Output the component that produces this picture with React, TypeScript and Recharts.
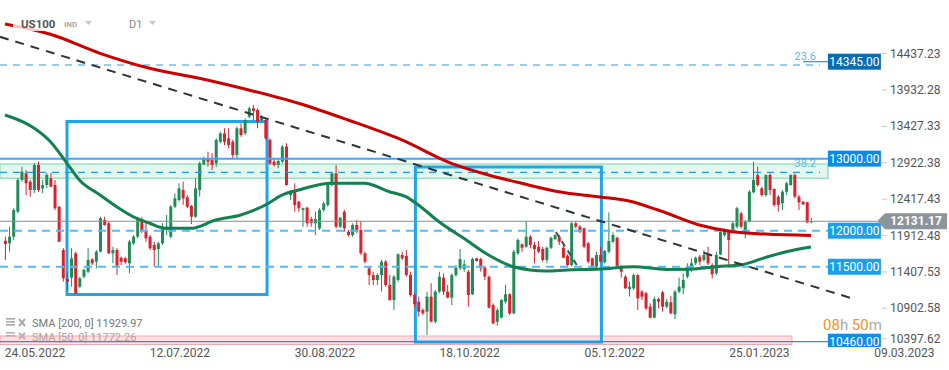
import { Bar, ComposedChart, Line, ReferenceArea, ReferenceLine, XAxis, YAxis } from "recharts";

// daily candles, index 0 = first visible session
const opens = [
  11861, 11825, 11917, 12264, 12704, 12796, 12680, 12565, 12912, 12588,
  12634, 12727, 12634, 12333, 11732, 11330, 11348, 11686, 11223, 11362,
  11431, 11603, 11570, 11709, 12148, 12103, 11686, 11732, 11625, 11617,
  11548, 11825, 11917, 12160, 12010, 11917, 11802, 11746, 11825, 12010,
  11917, 12333, 12426, 12565, 12463, 12343, 12194, 12565, 12921, 13005,
  12981, 12935, 13235, 13351, 13282, 13235, 13050, 13421, 13351, 13582,
  13698, 13675, 13536, 13536, 13259, 12957, 12912, 12957, 13166, 12495,
  12541, 12403, 12287, 12319, 12162, 12103, 12033, 12287, 12357, 12634,
  12796, 12056, 12264, 11986, 11940, 12079, 12010, 11686, 11478, 11385,
  11316, 11385, 11570, 11247, 11038, 11316, 11663, 11649, 11385, 11108,
  11015, 10900, 10876, 11085, 10738, 11154, 11348, 11154, 11071, 11385,
  11478, 11469, 11431, 11118, 11617, 11607, 11487, 11362, 10969, 10738,
  10793, 11015, 11118, 10854, 11686, 11811, 11778, 11917, 11802, 11778,
  11746, 11594, 11764, 11885, 11917, 11764, 11653, 11524, 12103, 12056,
  12033, 11825, 11617, 11501, 11663, 11562, 11709, 11847, 11903, 11501,
  11362, 11191, 11201, 11385, 11154, 11132, 10946, 10793, 11052, 11145,
  10946, 11006, 10840, 11154, 11201, 11362, 11455, 11548, 11640, 11594,
  11663, 11524, 11409, 11672, 11940, 11986, 11978, 12056, 12241, 11986,
  12125, 12533, 12773, 12588, 12495, 12773, 12579, 12472, 12380, 12541,
  12634, 12773, 12472, 12403, 12394, 12118,
];
const highs = [
  11917, 12056, 12315, 12731, 12888, 12842, 12704, 12939, 12957, 12704,
  12800, 12800, 12704, 12343, 11760, 11420, 11756, 11709, 11362, 11478,
  11760, 11617, 11732, 12194, 12194, 12125, 11778, 11756, 11640, 11640,
  11871, 11940, 12194, 12190, 12121, 11940, 11847, 11847, 12103, 12218,
  12357, 12519, 12658, 12680, 12495, 12357, 12727, 12957, 13027, 13096,
  13074, 13282, 13374, 13421, 13421, 13259, 13443, 13490, 13560, 13721,
  13744, 13698, 13605, 13560, 13282, 13005, 13005, 13189, 13213, 12565,
  12658, 12412, 12320, 12333, 12194, 12264, 12311, 12403, 12672, 12819,
  12912, 12194, 12287, 12010, 12103, 12148, 12135, 11709, 11501, 11431,
  11409, 11594, 11594, 11385, 11385, 11686, 11709, 11732, 11431, 11130,
  11085, 10923, 11154, 11270, 11177, 11431, 11409, 11247, 11409, 11524,
  11746, 11594, 11455, 11625, 11625, 11625, 11514, 11376, 10992, 10923,
  11052, 11247, 11132, 11732, 11894, 11825, 12135, 11940, 11847, 11857,
  11778, 11778, 11917, 11950, 11940, 11802, 11672, 12125, 12135, 12079,
  12042, 11847, 11625, 11709, 11778, 11732, 12255, 11978, 11917, 11524,
  11385, 11292, 11409, 11395, 11177, 11154, 10992, 11085, 11071, 11163,
  11052, 11098, 11177, 11348, 11409, 11548, 11617, 11640, 11663, 11732,
  11778, 11548, 11709, 12010, 12033, 11996, 12125, 12333, 12264, 12148,
  12565, 12957, 12888, 12611, 12782, 12810, 12588, 12495, 12565, 12680,
  12782, 12796, 12495, 12412, 12403, 12180,
];
const lows = [
  11594, 11709, 11871, 12246, 12680, 12495, 12472, 12523, 12537, 12523,
  12593, 12606, 12287, 11843, 11292, 11180, 11223, 11118, 11200, 11339,
  11413, 11524, 11478, 11700, 12070, 11680, 11548, 11385, 11524, 11540,
  11409, 11802, 11894, 11970, 11847, 11732, 11501, 11501, 11802, 11940,
  11894, 12311, 12403, 12357, 12311, 12093, 12180, 12472, 12912, 12888,
  12842, 12888, 13213, 13189, 13143, 13005, 13005, 13304, 13328, 13560,
  13536, 13421, 13512, 13259, 12912, 12888, 12866, 12935, 12624, 12426,
  12264, 12264, 12056, 12056, 12056, 11940, 12010, 12264, 12333, 12611,
  12033, 12033, 11986, 11917, 11917, 11964, 11663, 11548, 11247, 11247,
  11247, 11154, 11223, 11030, 10900, 11292, 11594, 11362, 11085, 10940,
  10807, 10830, 10553, 10729, 10715, 11132, 11108, 11062, 10969, 11362,
  11455, 11431, 10946, 11108, 11570, 11431, 11316, 10923, 10701, 10682,
  10784, 10992, 10830, 10840, 11663, 11709, 11764, 11756, 11548, 11686,
  11570, 11548, 11746, 11871, 11802, 11617, 11501, 11501, 12033, 11964,
  11756, 11548, 11469, 11478, 11562, 11548, 11686, 11825, 11478, 11348,
  11191, 11085, 11177, 10900, 11038, 10900, 10784, 10784, 10923, 10877,
  10923, 10840, 10775, 11132, 11118, 11339, 11431, 11524, 11524, 11570,
  11524, 11339, 11385, 11663, 11917, 11501, 11964, 12033, 12033, 11894,
  12116, 12519, 12611, 12472, 12472, 12495, 12333, 12264, 12287, 12495,
  12624, 12449, 12287, 12357, 12102, 12102,
];
const closes = [
  11816, 11917, 12287, 12704, 12819, 12658, 12565, 12912, 12565, 12634,
  12773, 12611, 12311, 11847, 11339, 11290, 11617, 11132, 11339, 11455,
  11594, 11548, 11709, 12172, 12079, 11686, 11732, 11514, 11570, 11562,
  11847, 11917, 12172, 11990, 11895, 11756, 11732, 11825, 12056, 12056,
  12333, 12450, 12588, 12450, 12333, 12194, 12588, 12935, 13005, 12957,
  12912, 13259, 13351, 13235, 13189, 13050, 13421, 13328, 13536, 13698,
  13661, 13512, 13582, 13282, 12935, 12912, 12967, 13166, 12634, 12541,
  12357, 12311, 12311, 12103, 12111, 12162, 12287, 12380, 12634, 12796,
  12056, 12180, 12033, 11940, 12079, 11986, 11686, 11570, 11385, 11316,
  11385, 11570, 11247, 11038, 11362, 11672, 11617, 11385, 11108, 10980,
  10876, 10854, 11085, 10738, 11154, 11362, 11154, 11071, 11385, 11487,
  11607, 11534, 11108, 11607, 11580, 11478, 11362, 10932, 10715, 10900,
  11038, 11118, 10854, 11709, 11871, 11764, 11917, 11802, 11746, 11709,
  11594, 11764, 11903, 11940, 11847, 11625, 11524, 12103, 12056, 11986,
  11778, 11570, 11501, 11663, 11570, 11718, 11857, 11940, 11501, 11431,
  11201, 11223, 11385, 11062, 11085, 10923, 10793, 11052, 11015, 10946,
  11015, 10854, 11154, 11223, 11316, 11501, 11548, 11625, 11570, 11663,
  11548, 11395, 11663, 11986, 12010, 11871, 12103, 12311, 12056, 12125,
  12541, 12704, 12634, 12495, 12773, 12565, 12357, 12357, 12541, 12658,
  12773, 12472, 12394, 12366, 12116, 12131,
];

// moving averages at a few sessions
const sma200Idx = [0, 11, 23, 35, 47, 59, 71, 83, 96, 108, 117, 125, 134, 144, 151, 158, 168, 176, 184, 195];
const sma200Val = [14868, 14725, 14461, 14253, 14115, 13952, 13768, 13536, 13259, 12935, 12773, 12658, 12541, 12468, 12412, 12287, 12079, 11986, 11954, 11935];
const sma50Idx = [0, 7, 11, 15, 18, 23, 27, 31, 35, 39, 45, 51, 57, 63, 67, 71, 79, 87, 93, 97, 100, 105, 111, 117, 123, 131, 136, 144, 152, 160, 166, 172, 178, 184, 189, 195];
const sma50Val = [13605, 13425, 13235, 12935, 12704, 12495, 12333, 12194, 12103, 12033, 12033, 12148, 12218, 12357, 12495, 12565, 12658, 12658, 12541, 12472, 12357, 12125, 11895, 11663, 11500, 11440, 11455, 11469, 11501, 11462, 11465, 11501, 11524, 11628, 11709, 11775];

const dateTicks = [7.26, 42.3, 77.4, 112.4, 147.5, 182.5, 217.6];
const dateLabels = ["24.05.2022", "12.07.2022", "30.08.2022", "18.10.2022", "05.12.2022", "25.01.2023", "09.03.2023"];
const priceTicks = [10397.62, 10902.58, 11407.53, 11912.48, 12417.43, 12922.38, 13427.33, 13932.28, 14437.23];

const XMIN = -1.21;
const XMAX = 228.16;
const LEVEL_END = 199.1;
const FIB_END = 197.2;

const GREEN = "#1f8c57";
const RED = "#d8232f";
const FONT = "Roboto, sans-serif";

const rows = opens.map((o, i) => ({
  i,
  open: o,
  high: highs[i],
  low: lows[i],
  close: closes[i],
  range: [lows[i], highs[i]],
}));
const sma200Rows = sma200Idx.map((i, k) => ({ i, sma200: sma200Val[k] }));
const sma50Rows = sma50Idx.map((i, k) => ({ i, sma50: sma50Val[k] }));

function Candle(props: any) {
  const { x, y, width, height, payload } = props;
  if (!payload) return null;
  const top = Math.min(y, y + height);
  const h = Math.abs(height);
  const { open, close, high, low } = payload;
  const k = h / (high - low || 1);
  const yOf = (v: number) => top + (high - v) * k;
  const b1 = yOf(Math.max(open, close));
  const b2 = yOf(Math.min(open, close));
  const cx = x + width / 2;
  const c = close >= open ? GREEN : RED;
  return (
    <g>
      <line x1={cx} x2={cx} y1={top} y2={top + h} stroke={c} strokeWidth={1} />
      <rect x={cx - 1.5} y={b1} width={3} height={Math.max(1, b2 - b1)} fill={c} />
    </g>
  );
}

function DateTick(props: any) {
  const { x, payload } = props;
  const k = dateTicks.indexOf(payload.value);
  return (
    <text x={x} y={357} textAnchor="middle" fontSize={12} fill="#555" fontFamily={FONT}>
      {dateLabels[k]}
    </text>
  );
}

function PriceTick(props: any) {
  const { y, payload } = props;
  const cy = payload.value < 10500 ? y - 7.5 : y - 1.5;
  return (
    <g>
      <line x1={882} x2={887} y1={cy} y2={cy} stroke="#c8c8c8" />
      <text x={890} y={cy} dominantBaseline="central" fontSize={12} fill="#555" fontFamily={FONT}>
        {payload.value.toFixed(2)}
      </text>
    </g>
  );
}

function PriceTag(props: any) {
  const { viewBox, text, fill } = props;
  if (!viewBox) return null;
  const x = viewBox.x + viewBox.width;
  const cy = viewBox.y;
  const top = cy - 8;
  const h = Math.min(16, 347 - top);
  return (
    <g>
      <rect x={x} y={top} width={53} height={h} fill={fill} />
      <text x={x + 26.5} y={cy} textAnchor="middle" dominantBaseline="central" fontSize={12} fill="#fff" fontFamily={FONT}>
        {text}
      </text>
    </g>
  );
}

function LastTag(props: any) {
  const { viewBox, text } = props;
  if (!viewBox) return null;
  const x = viewBox.x + viewBox.width;
  const cy = viewBox.y;
  return (
    <g>
      <polygon points={`${x},${cy} ${x + 8},${cy - 8} ${x + 70},${cy - 8} ${x + 70},${cy + 8} ${x + 8},${cy + 8}`} fill="#8c959b" />
      <text x={x + 39} y={cy} textAnchor="middle" dominantBaseline="central" fontSize={12} fontWeight="bold" fill="#fff" fontFamily={FONT}>
        {text}
      </text>
    </g>
  );
}

function FibText(props: any) {
  const { viewBox, text } = props;
  if (!viewBox) return null;
  return (
    <text x={viewBox.x + viewBox.width - 4} y={viewBox.y - 9} textAnchor="end" dominantBaseline="central" fontSize={11} fill="#5ab6ec" fontFamily={FONT}>
      {text}
    </text>
  );
}

export default function App() {
  return (
    <div style={{ position: "relative", width: 949, height: 370, background: "#fff" }}>
      <style>{"body{margin:0}"}</style>
      <ComposedChart width={949} height={370} data={rows} margin={{ top: 0, right: 0, bottom: 0, left: 0 }}>
        <XAxis
          type="number"
          dataKey="i"
          domain={[XMIN, XMAX]}
          allowDataOverflow
          ticks={dateTicks}
          interval={0}
          tick={<DateTick />}
          axisLine={false}
          tickLine={false}
          height={23}
        />
        <YAxis
          orientation="right"
          type="number"
          domain={[10386.4, 15201]}
          allowDataOverflow
          ticks={priceTicks}
          interval={0}
          tick={<PriceTick />}
          axisLine={false}
          tickLine={false}
          width={1}
        />

        <ReferenceArea x1={XMIN} x2={LEVEL_END} y1={12727} y2={12925} fill="#e4f7ef" fillOpacity={1} stroke="#9fdfc4" strokeWidth={1.5} ifOverflow="visible" />
        <ReferenceArea x1={XMIN} x2={190.4} y1={10421} y2={10539} fill="#fbdcdf" fillOpacity={0.9} stroke="#f1a7ae" ifOverflow="visible" />

        <ReferenceLine segment={[{ x: XMIN, y: 14299 }, { x: FIB_END, y: 14299 }]} stroke="#2a9be0" strokeWidth={1.2} strokeDasharray="7 6" ifOverflow="visible" label={<FibText text="23.6" />} />
        <ReferenceLine segment={[{ x: XMIN, y: 12810 }, { x: FIB_END, y: 12810 }]} stroke="#2a9be0" strokeWidth={1.2} strokeDasharray="7 6" ifOverflow="visible" label={<FibText text="38.2" />} />
        <ReferenceLine segment={[{ x: 193.1, y: 14345 }, { x: LEVEL_END, y: 14345 }]} stroke="#2a8fd6" strokeWidth={1.2} ifOverflow="visible" label={<PriceTag text="14345.00" fill="#0b6cb2" />} />
        <ReferenceLine segment={[{ x: XMIN, y: 13000 }, { x: LEVEL_END, y: 13000 }]} stroke="#4aa2ee" strokeWidth={2} ifOverflow="visible" label={<PriceTag text="13000.00" fill="#0a8be8" />} />
        <ReferenceLine segment={[{ x: XMIN, y: 12000 }, { x: LEVEL_END, y: 12000 }]} stroke="#5ab9f0" strokeWidth={2} strokeDasharray="8 6" ifOverflow="visible" label={<PriceTag text="12000.00" fill="#1aa0e8" />} />
        <ReferenceLine segment={[{ x: XMIN, y: 11500 }, { x: LEVEL_END, y: 11500 }]} stroke="#5ab9f0" strokeWidth={2} strokeDasharray="8 6" ifOverflow="visible" label={<PriceTag text="11500.00" fill="#1aa0e8" />} />
        <ReferenceLine segment={[{ x: XMIN, y: 10460 }, { x: LEVEL_END, y: 10460 }]} stroke="#2a8fe0" strokeWidth={1.2} ifOverflow="visible" label={<PriceTag text="10460.00" fill="#118de6" />} />
        <ReferenceLine segment={[{ x: XMIN, y: 12131.17 }, { x: 211, y: 12131.17 }]} stroke="#8a8a8a" strokeWidth={1} ifOverflow="visible" label={<LastTag text="12131.17" />} />

        <Bar dataKey="range" barSize={3} isAnimationActive={false} shape={(p: any) => <Candle {...p} />} />

        <Line data={sma200Rows} dataKey="sma200" type="monotone" stroke="#cc0000" strokeWidth={3} dot={false} activeDot={false} isAnimationActive={false} />
        <Line data={sma50Rows} dataKey="sma50" type="monotone" stroke="#13804f" strokeWidth={3} dot={false} activeDot={false} isAnimationActive={false} />

        <ReferenceLine segment={[{ x: XMIN, y: 14690 }, { x: 204.9, y: 11062 }]} stroke="#2f3437" strokeWidth={2} strokeDasharray="9 7" ifOverflow="visible" />
        <ReferenceLine segment={[{ x: 133.3, y: 11982 }, { x: 139.1, y: 11455 }]} stroke="#4a5055" strokeWidth={2} strokeDasharray="6 5" ifOverflow="visible" />

        <ReferenceArea x1={15.0} x2={63.4} y1={11115} y2={13515} fill="none" fillOpacity={0} stroke="#1ea5ea" strokeWidth={3} ifOverflow="visible" />
        <ReferenceArea x1={99.3} x2={144.3} y1={10456} y2={12884} fill="none" fillOpacity={0} stroke="#1ea5ea" strokeWidth={3} ifOverflow="visible" />
      </ComposedChart>

      <svg width={949} height={370} style={{ position: "absolute", left: 0, top: 0, pointerEvents: "none" }} fontFamily={FONT}>
        <rect x={13} y={13} width={160} height={18} fill="#fff" opacity={0.78} />
        <text x={21} y={27.5} fontSize={11.5} fontWeight="bold" fill="#555">US100</text>
        <text x={64} y={26.5} fontSize={8} fontWeight="bold" fill="#a8a8a8">IND</text>
        <polygon points="85,21 92,21 88.5,25" fill="#c8c8c8" />
        <text x={129} y={27.5} fontSize={11} fill="#888">D1</text>
        <polygon points="149,21 156,21 152.5,25" fill="#c8c8c8" />

        <rect x={6} y={318} width={9} height={1.6} fill="#aaa" />
        <rect x={6} y={321} width={9} height={1.6} fill="#aaa" />
        <rect x={6} y={324} width={9} height={1.6} fill="#aaa" />
        <line x1={19} y1={319} x2={25} y2={326} stroke="#aaa" strokeWidth={2} />
        <line x1={25} y1={319} x2={19} y2={326} stroke="#aaa" strokeWidth={2} />
        <text x={32} y={323.5} dominantBaseline="central" fontSize={11} fill="#777">SMA [200,  0] 11929.97</text>
        <rect x={6} y={332} width={9} height={1.6} fill="#c9a9ad" />
        <rect x={6} y={335} width={9} height={1.6} fill="#c9a9ad" />
        <line x1={19} y1={333} x2={25} y2={339} stroke="#c9a9ad" strokeWidth={2} />
        <line x1={25} y1={333} x2={19} y2={339} stroke="#c9a9ad" strokeWidth={2} />
        <text x={32} y={337.5} dominantBaseline="central" fontSize={11} fill="#b89ea2">SMA [50,  0] 11772.26</text>

        <text x={823} y={330} fontSize={15}>
          <tspan fill="#f7941d">08</tspan>
          <tspan fill="#aaa">h </tspan>
          <tspan fill="#f7941d">50</tspan>
          <tspan fill="#aaa">m</tspan>
        </text>
      </svg>
    </div>
  );
}
